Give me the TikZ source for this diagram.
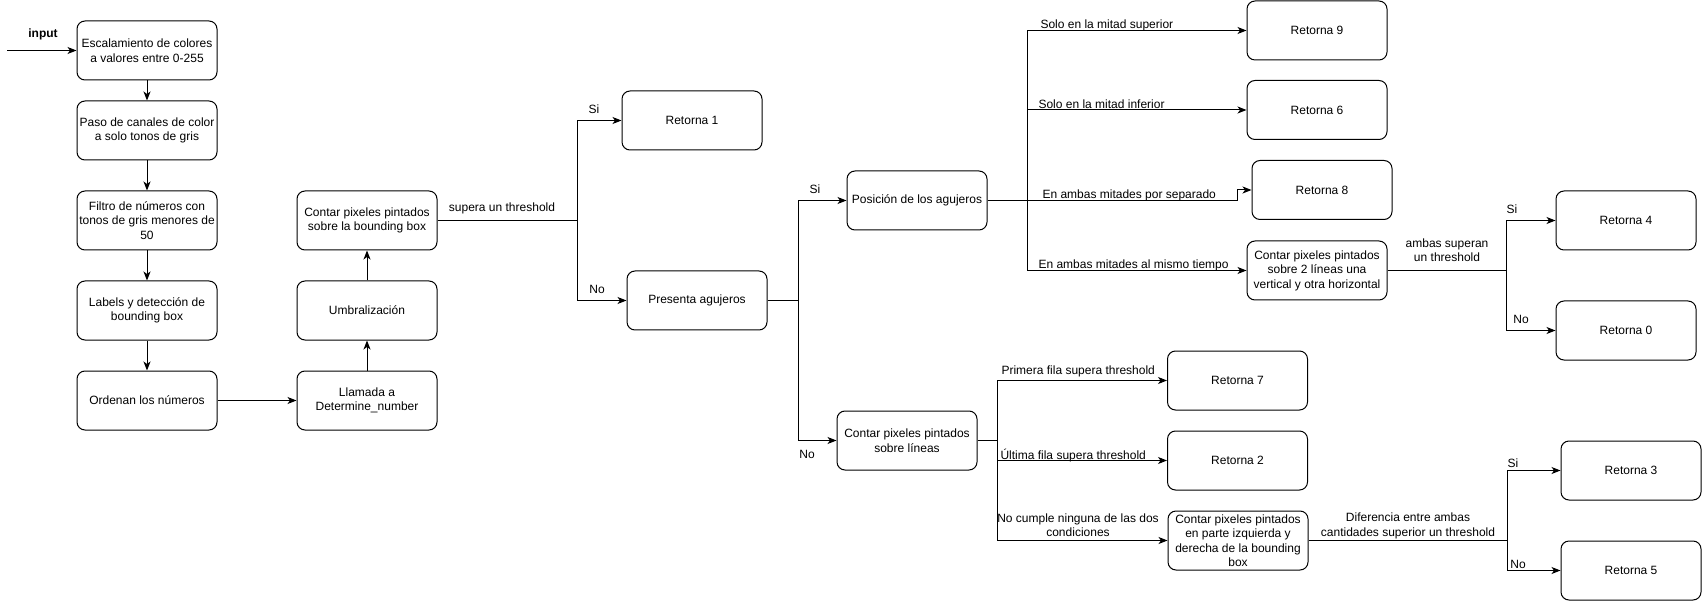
\documentclass[tikz,border=0pt]{standalone}
\usepackage{fontspec}
\setmainfont{Liberation Sans}
\usetikzlibrary{arrows.meta}
\begin{document}
\begin{tikzpicture}[x=1pt,y=-1pt,line width=1pt,
  every node/.style={font=\fontsize{12}{14.5}\selectfont},
  box/.style={draw,rounded corners=8pt,minimum width=140pt,minimum height=59pt,align=center,inner sep=1pt},
  lbl/.style={inner sep=0pt,align=center},
  arr/.style={-{Stealth[length=9pt,width=7pt,inset=2.5pt]}}]
\useasboundingbox (0,0) rectangle (1704,601);

% preprocessing column
\node[box] (esc) at (147,50.5) {Escalamiento de colores\\a valores entre 0-255};
\node[box] (paso) at (147,130.5) {Paso de canales de color\\a solo tonos de gris};
\node[box] (filtro) at (147,220.5) {Filtro de números con\\tonos de gris menores de\\50};
\node[box] (labels) at (147,310.5) {Labels y detección de\\bounding box};
\node[box] (orden) at (147,400.5) {Ordenan los números};

% determine_number column
\node[box] (llamada) at (367,400.5) {Llamada a\\Determine\_number};
\node[box] (umbral) at (367,310.5) {Umbralización};
\node[box] (contarbb) at (367,220.5) {Contar pixeles pintados\\sobre la bounding box};

% first decision
\node[box] (ret1) at (692,120.5) {Retorna 1};
\node[box] (presenta) at (697,300.5) {Presenta agujeros};

% holes branch
\node[box] (posicion) at (917,200.5) {Posición de los agujeros};
\node[box] (ret9) at (1317,30.5) {Retorna 9};
\node[box] (ret6) at (1317,110) {Retorna 6};
\node[box] (ret8) at (1322,190) {Retorna 8};
\node[box] (contardos) at (1317,270.5) {Contar pixeles pintados\\sobre 2 líneas una\\vertical y otra horizontal};
\node[box] (ret4) at (1626,220.5) {Retorna 4};
\node[box] (ret0) at (1626,330.5) {Retorna 0};

% no-holes branch
\node[box] (contarlin) at (907,440.5) {Contar pixeles pintados\\sobre líneas};
\node[box] (ret7) at (1237.5,380.5) {Retorna 7};
\node[box] (ret2) at (1237.5,460.5) {Retorna 2};
\node[box] (contarizq) at (1238,540.5) {Contar pixeles pintados\\en parte izquierda y\\derecha de la bounding\\box};
\node[box] (ret3) at (1631,470.5) {Retorna 3};
\node[box] (ret5) at (1631,570.5) {Retorna 5};

% branch points
\coordinate (start) at (7,50.5);
\coordinate (s1) at (577,220.5);
\coordinate (s2) at (798,300.5);
\coordinate (s3) at (1027,200.5);
\coordinate (k8) at (1237,200.5);
\coordinate (s4) at (1506,270.5);
\coordinate (s5) at (997,440.5);
\coordinate (s6) at (1507,540.5);

% connectors
\draw[arr] (start) -- (esc.west);
\draw[arr] (esc) -- (paso);
\draw[arr] (paso) -- (filtro);
\draw[arr] (filtro) -- (labels);
\draw[arr] (labels) -- (orden);
\draw[arr] (orden) -- (llamada);
\draw[arr] (llamada) -- (umbral);
\draw[arr] (umbral) -- (contarbb);

\draw (contarbb.east) -- (s1);
\draw[arr] (s1) |- (ret1.west);
\draw[arr] (s1) |- (presenta.west);

\draw (presenta.east) -- (s2);
\draw[arr] (s2) |- (posicion.west);
\draw[arr] (s2) |- (contarlin.west);

\draw (posicion.east) -- (s3);
\draw[arr] (s3) |- (ret9.west);
\draw[arr] (s3) |- (ret6.west);
\draw[arr] (s3) -- (k8) |- (ret8.west);
\draw[arr] (s3) |- (contardos.west);

\draw (contardos.east) -- (s4);
\draw[arr] (s4) |- (ret4.west);
\draw[arr] (s4) |- (ret0.west);

\draw (contarlin.east) -- (s5);
\draw[arr] (s5) |- (ret7.west);
\draw[arr] (s5) |- (ret2.west);
\draw[arr] (s5) |- (contarizq.west);

\draw (contarizq.east) -- (s6);
\draw[arr] (s6) |- (ret3.west);
\draw[arr] (s6) |- (ret5.west);

% connector labels
\node[lbl,font=\fontsize{12}{14.5}\selectfont\bfseries] (input) at (43,34) {input};
\node[lbl] (l1) at (502,208) {supera un threshold};
\node[lbl] (l1si) at (594,109) {Si};
\node[lbl] (l1no) at (597,289) {No};
\node[lbl] (l2si) at (815,189) {Si};
\node[lbl] (l2no) at (807,454) {No};
\node[lbl,anchor=base west] (l3a) at (1040,29) {Solo en la mitad superior};
\node[lbl,anchor=base west] (l3b) at (1038,108.5) {Solo en la mitad inferior};
\node[lbl,anchor=base west] (l3c) at (1042,198.5) {En ambas mitades por separado};
\node[lbl,anchor=base west] (l3d) at (1038,268.5) {En ambas mitades al mismo tiempo};
\node[lbl] (l4) at (1447,250) {ambas superan\\un threshold};
\node[lbl] (l4si) at (1512,209) {Si};
\node[lbl] (l4no) at (1521,319) {No};
\node[lbl,anchor=base west] (l5a) at (1001,374) {Primera fila supera threshold};
\node[lbl,anchor=base west] (l5b) at (1000,459) {Última fila supera threshold};
\node[lbl] (l5c) at (1078,525) {No cumple ninguna de las dos\\condiciones};
\node[lbl] (l6) at (1408,526) {Diferencia entre ambas\\cantidades superior un threshold};
\node[lbl] (l6si) at (1513,463) {Si};
\node[lbl] (l6no) at (1518,564) {No};
\end{tikzpicture}
\end{document}
